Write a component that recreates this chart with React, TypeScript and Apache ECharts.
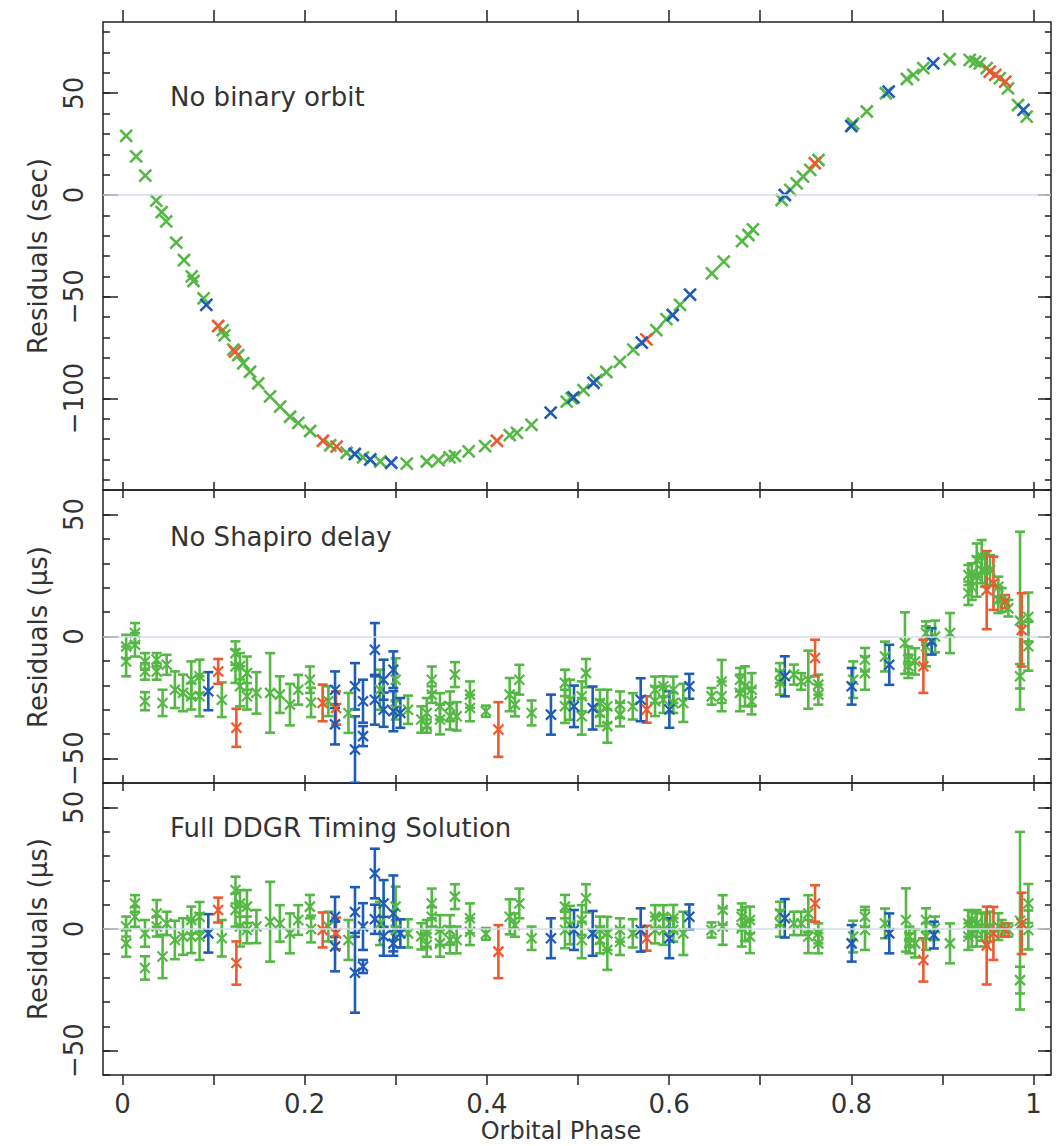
import React, { useEffect, useRef } from 'react';
import * as echarts from 'echarts';

// ---------- data ----------
const X_MIN = -0.0214;
const X_MAX = 1.0192;
const X_TICKS = [0, 0.1, 0.2, 0.3, 0.4, 0.5, 0.6, 0.7, 0.8, 0.9, 1.0];
const X_LABELS = [0, 0.2, 0.4, 0.6, 0.8, 1.0];

const Y1_RANGE = [-145, 85];
const Y1_MAJOR = [-100, -50, 0, 50];
const Y1_MINOR = [-140, -130, -120, -110, -100, -90, -80, -70, -60, -50, -40, -30, -20, -10, 0, 10, 20, 30, 40, 50, 60, 70, 80];
const Y23_RANGE = [-60, 60];
const Y23_MAJOR = [-50, 0, 50];
const Y23_MINOR = [-60, -50, -40, -30, -20, -10, 0, 10, 20, 30, 40, 50, 60];

const PANEL_TITLES = ['No binary orbit', 'No Shapiro delay', 'Full DDGR Timing Solution'];
const Y_NAMES = ['Residuals (sec)', 'Residuals (μs)', 'Residuals (μs)'];
const X_NAME = 'Orbital Phase';

// Panel 1: [phase, residual (s)]
const P1_GREEN: number[][] = [
  [0.004, 29], [0.015, 19], [0.025, 9.5], [0.037, -2.8], [0.043, -8.4], [0.048, -13], [0.059, -23.4],
  [0.0675, -32], [0.076, -40], [0.078, -42.3], [0.089, -50.8], [0.11, -66.4], [0.112, -69], [0.1216, -76],
  [0.127, -78.7], [0.1326, -82.7], [0.14, -86.9], [0.149, -92.6], [0.162, -99], [0.173, -104], [0.184, -109],
  [0.193, -112], [0.206, -116], [0.228, -123], [0.246, -126.7], [0.264, -129], [0.283, -131], [0.312, -132],
  [0.334, -131], [0.347, -130.3], [0.359, -129], [0.365, -128.3], [0.38, -126], [0.398, -123.4], [0.425, -118],
  [0.433, -116.9], [0.449, -113], [0.4876, -101.6], [0.493, -100], [0.506, -95.9], [0.52, -91], [0.531, -87],
  [0.546, -82], [0.5607, -76], [0.586, -66.4], [0.597, -61], [0.612, -54], [0.647, -38.5], [0.66, -32.8],
  [0.68, -22.7], [0.687, -19.7], [0.692, -16.9], [0.7236, -2.5], [0.733, 2.5], [0.74, 5.7], [0.747, 9],
  [0.755, 12.3], [0.764, 17.2], [0.802, 35], [0.817, 41], [0.838, 50], [0.861, 57], [0.868, 59], [0.879, 62.3],
  [0.908, 66.7], [0.93, 66.4], [0.936, 65.5], [0.941, 64.7], [0.9486, 62.3], [0.963, 57.4], [0.972, 52.4],
  [0.983, 44.2], [0.9925, 38.5],
];
const P1_BLUE: number[][] = [
  [0.092, -54], [0.255, -127.3], [0.272, -130], [0.295, -131.6], [0.47, -107], [0.495, -99.5], [0.517, -92.3],
  [0.57, -72.6], [0.604, -59], [0.623, -49], [0.727, 0], [0.8, 33.9], [0.841, 50.8], [0.89, 64.7], [0.989, 41.8],
];
const P1_RED: number[][] = [
  [0.105, -64.4], [0.1235, -77], [0.22, -120.8], [0.235, -123.7], [0.411, -120.8], [0.575, -71], [0.76, 15.6],
  [0.952, 60.6], [0.958, 59], [0.969, 55.7],
];

// Panel 2: [phase, residual (us), error (us)]
const P2_GREEN: number[][] = [
  [0.004, -4.1, 4.8], [0.004, -10.2, 6.1], [0.0137, 1.4, 4.1], [0.0137, -3.4, 4.8],
  [0.0247, -10.2, 3.4], [0.0247, -14.3, 3.4], [0.0247, -26.5, 3.7], [0.0375, -9.5, 2.7], [0.0375, -14.3, 3.4],
  [0.044, -27.2, 5.4], [0.0485, -11.6, 4.1], [0.0575, -21.8, 7.5], [0.0664, -23.1, 7.5],
  [0.0755, -17.7, 7.5], [0.0755, -24.5, 5.4], [0.0846, -16.3, 6.8], [0.0846, -24.5, 8.2], [0.109, -25.9, 7.1],
  [0.124, -6.8, 4.8], [0.124, -12.2, 6.8], [0.129, -12.2, 5.4], [0.129, -20.4, 8.2], [0.1366, -15, 6.8],
  [0.1366, -24.5, 5.4], [0.147, -23.1, 8.5], [0.162, -23.1, 16.3], [0.1727, -23.8, 7.5], [0.1838, -27.9, 8.5],
  [0.1929, -21.8, 6.1], [0.2057, -17.7, 5.4], [0.207, -27, 6], [0.226, -26.5, 6.1], [0.248, -31.3, 8.2],
  [0.2827, -21.8, 8.2], [0.2998, -17.7, 8.8], [0.2998, -30, 4], [0.3134, -30, 5.8], [0.328, -34, 5.4],
  [0.334, -31.3, 6.1], [0.334, -36.7, 2.7], [0.3395, -17.7, 5.4], [0.3395, -23.8, 3.4], [0.3485, -28.6, 5.4],
  [0.3485, -34, 6.1], [0.3595, -28.6, 6.1], [0.3595, -32.7, 5.4], [0.3649, -15.6, 5.1], [0.3668, -32.7, 5.8],
  [0.3814, -23.8, 5.4], [0.3814, -29.3, 5.4], [0.3989, -30.6, 2.3], [0.425, -23.8, 6.8], [0.4308, -27.9, 4.8],
  [0.4356, -17.7, 6.1], [0.4491, -31.3, 5.1], [0.4857, -19, 5.4], [0.4857, -28.6, 6.8], [0.4912, -25.9, 8.2],
  [0.5041, -24.5, 6.1], [0.5041, -32.7, 7.5], [0.5088, -15, 5.8], [0.5241, -27.2, 5.4], [0.5241, -31.3, 5.4],
  [0.5322, -28.6, 6.8], [0.5322, -36.7, 6.8], [0.5461, -27.9, 5.4], [0.5461, -32, 4.8], [0.5601, -28.6, 5.4],
  [0.5846, -21.8, 5.4], [0.5846, -26.5, 6.1], [0.5937, -20.4, 4.1], [0.5937, -25.9, 5.4], [0.6047, -21.8, 5.4],
  [0.6047, -27.2, 4.1], [0.6156, -27.2, 7.8], [0.6466, -24.5, 3.4], [0.6577, -18.4, 8.8], [0.6577, -24.5, 6.1],
  [0.6778, -17.7, 4.8], [0.6778, -23.1, 7.5], [0.6833, -20.4, 8.2], [0.6906, -21.8, 6.8], [0.6906, -26.5, 5.4],
  [0.7217, -15, 4.1], [0.7217, -19, 4.8], [0.737, -15.6, 4.1], [0.745, -18.4, 3.4], [0.7528, -17.7, 11.9],
  [0.7638, -19.7, 4.1], [0.7638, -23.8, 4.1], [0.802, -17.7, 7.5], [0.815, -9.5, 4.8], [0.815, -15, 6.8],
  [0.837, -8.2, 6.1], [0.8589, -2.7, 12.6], [0.8626, -9.5, 5.4], [0.8626, -12.2, 4.8], [0.87, -10.2, 5.4],
  [0.882, 1.4, 4.8], [0.882, -4, 8.2], [0.8919, 0, 6.5], [0.9083, 1.4, 8.2], [0.9285, 25.2, 4.1],
  [0.9285, 17.7, 4.8], [0.9322, 25.9, 4.1], [0.9322, 20.4, 5.4], [0.9377, 31.3, 6.8], [0.9377, 24.5, 8.2],
  [0.9432, 32.7, 6.8], [0.9432, 27.2, 5.4], [0.9468, 27.2, 6.8], [0.9523, 27.2, 6.1], [0.9614, 20.4, 4.1],
  [0.9614, 15, 5.4], [0.9651, 15, 4.8], [0.9724, 11.6, 3.4], [0.9852, 6.5, 36.4], [0.9852, -16.3, 5],
  [0.9943, 8, 10], [0.9943, -4, 10],
];
const P2_BLUE: number[][] = [
  [0.0942, -22.4, 7.8], [0.2333, -21.8, 7.5], [0.2333, -36, 8.2], [0.2552, -20.4, 9.5], [0.2552, -46.3, 13.6],
  [0.264, -26.5, 8.8], [0.264, -40.8, 4.1], [0.277, -5.4, 10.9], [0.277, -25.9, 10.2], [0.2866, -17.7, 8.2],
  [0.2866, -30, 7], [0.2973, -13.6, 7.5], [0.2973, -30.6, 8.2], [0.305, -31.3, 6.1], [0.4703, -32, 8.2],
  [0.4956, -28.6, 8.5], [0.5161, -29.3, 8.8], [0.5688, -25.9, 8.8], [0.6003, -29.9, 7.5], [0.6222, -20.4, 5.1],
  [0.727, -16.3, 8.2], [0.8004, -20.4, 7.5], [0.8417, -11.6, 8.2], [0.8882, -2, 5.4],
];
const P2_RED: number[][] = [
  [0.105, -14.3, 5.1], [0.125, -37.4, 7.8], [0.2197, -27.2, 7.5], [0.2344, -29.3, 6.8], [0.4126, -38.1, 11.2],
  [0.5754, -29.9, 5.4], [0.7602, -8.8, 7.5], [0.8791, -12.2, 10.9], [0.9486, 19, 16], [0.956, 21.8, 10.9],
  [0.9688, 14.3, 2.7], [0.987, 2.7, 15],
];

// Panel 3: [phase, residual (us), error (us)]
const P3_GREEN: number[][] = [
  [0.004, 1, 4.1], [0.004, -5.9, 5.5], [0.0137, 10.5, 3.4], [0.0137, 5, 4.1], [0.0247, -1.8, 5.5],
  [0.0247, -16, 4.8], [0.0375, 6.4, 5.5], [0.0375, 1, 4.1], [0.044, -11.3, 8.9], [0.0485, 2.3, 4.8],
  [0.0575, -4.5, 7.9], [0.0664, -3.1, 7.5], [0.0755, 3.7, 5.5], [0.0755, -3.1, 6.8], [0.0846, 5, 6.1],
  [0.0846, -3.1, 9.6], [0.109, -3.8, 7.5], [0.124, 16, 5.5], [0.124, 7.8, 6.8], [0.129, 10.5, 5.5],
  [0.129, 1, 8.2], [0.1366, 9.2, 6.8], [0.1366, -0.4, 5.5], [0.147, 1, 6.8], [0.162, 3, 16.4],
  [0.1727, 2.3, 7.5], [0.1838, -1.8, 8.2], [0.1929, 3.7, 6.1], [0.2057, 9.2, 4.8], [0.207, 0, 5.5],
  [0.226, 1, 6.1], [0.248, -4.5, 8.2], [0.2827, 2.3, 8.9], [0.2998, 9.2, 8.2], [0.2998, -0.4, 4],
  [0.3134, -1.8, 5.8], [0.328, -3, 5.4], [0.334, -1.8, 5.5], [0.334, -6.6, 4.8], [0.3395, 10.5, 6.1],
  [0.3395, 5, 4], [0.3485, -0.4, 6.1], [0.3485, -5.9, 5.5], [0.3595, -0.4, 6.1], [0.3595, -4.5, 5.5],
  [0.3649, 13.3, 5.1], [0.3668, -4.5, 5.5], [0.3814, 4.4, 6.1], [0.3814, -1.1, 5.5], [0.3989, -2, 2.4],
  [0.425, 5, 7.2], [0.4308, 1.6, 4.8], [0.4356, 10.5, 6.1], [0.4491, -3.8, 4.8], [0.4857, 9.2, 4.8],
  [0.4857, -0.4, 7.5], [0.4912, 1.6, 7.9], [0.5041, 3.7, 6.1], [0.5041, -4.5, 7.5], [0.5088, 12.6, 5.8],
  [0.5241, -0.4, 5.5], [0.5241, -4.5, 5.5], [0.5322, -1.8, 6.8], [0.5322, -8.6, 8.2], [0.5461, -0.4, 4.8],
  [0.5461, -5.2, 5.5], [0.5601, -1.8, 5.8], [0.5846, 5, 4.8], [0.5846, -0.4, 5.5], [0.5937, 5, 4.8],
  [0.5937, -0.4, 6.1], [0.6047, 4.4, 5.5], [0.6047, -0.4, 4.8], [0.6156, -1.8, 8.9], [0.6466, -0.4, 3.1],
  [0.6588, 7.8, 6.1], [0.6588, 1, 7.5], [0.6797, 5, 5.5], [0.6797, 0.3, 7.5], [0.6833, 2, 7],
  [0.6888, 3.7, 5.5], [0.6888, -3.1, 6.8], [0.7217, 6.4, 4.8], [0.7217, 2.3, 5.5], [0.737, 2.3, 4.8],
  [0.745, 2.3, 4.8], [0.7528, 6.4, 7.5], [0.7528, -3.1, 6.8], [0.7638, -1.8, 4.1], [0.7638, -5.9, 4.1],
  [0.802, -3.1, 6.5], [0.815, 5, 4.1], [0.815, -0.4, 8.2], [0.837, 2.3, 6.1], [0.86, 3.7, 13],
  [0.8637, -3.1, 4.1], [0.8637, -5.9, 4.1], [0.87, -5.9, 5.8], [0.882, 3.7, 4.8], [0.882, -3.1, 5.5],
  [0.8919, 0.3, 4.8], [0.9083, -5.9, 8.2], [0.9285, 2.3, 5.5], [0.9285, -3.1, 5.5], [0.9322, 3.7, 3.4],
  [0.9322, -1.8, 5.5], [0.9377, 2.3, 5.5], [0.9377, -0.4, 6.8], [0.9432, 1, 5.8], [0.9468, -0.4, 6.8],
  [0.9523, 1, 6.1], [0.9614, 1, 5.5], [0.9651, 0.3, 3.4], [0.9724, -0.4, 2.7], [0.9852, 3.4, 36.5],
  [0.9852, -21, 5.5], [0.9943, 10.5, 8], [0.9943, -0.4, 8],
];
const P3_BLUE: number[][] = [
  [0.0942, -1.8, 7.9], [0.2333, 5, 8.2], [0.2333, -7.2, 10.2], [0.2552, 7, 10.2], [0.2552, -18, 16.4],
  [0.264, 1, 9.6], [0.264, -15.4, 2.7], [0.277, 22.8, 10.2], [0.277, 4, 6], [0.2866, 10.5, 9.6],
  [0.2866, -3, 8], [0.2973, 6.4, 15.6], [0.2973, -6, 5], [0.305, -1.8, 5.8], [0.4703, -3.8, 8.2],
  [0.4956, -0.4, 8.2], [0.5161, -1.8, 9.2], [0.5688, -0.4, 8.9], [0.6003, -3.8, 8.2], [0.6222, 5, 5.1],
  [0.727, 4.4, 7.9], [0.8004, -5.9, 7.5], [0.8417, -1.8, 8.2], [0.8906, -2.5, 5.5],
];
const P3_RED: number[][] = [
  [0.105, 7.8, 5.1], [0.125, -14, 8.9], [0.2197, -0.4, 7.2], [0.2344, -1.8, 6.5], [0.4126, -9.3, 10.9],
  [0.5754, -3.8, 5.1], [0.7602, 10.5, 7.5], [0.8791, -12.7, 8.9], [0.9486, -6.8, 16], [0.956, -1.8, 10.9],
  [0.9688, -0.4, 2.7], [0.987, 2.3, 12.6],
];

// ---------- style ----------
const GREEN = '#55b845';
const BLUE = '#1f5cb8';
const RED = '#ec5a30';
const AXIS = '#222';
const TEXT = '#333';
const FONT = 'DejaVu Sans';
const CROSS = 'path://M0 0L10 10M10 0L0 10';

const GRIDS = [
  { top: 22, height: 468 },
  { top: 490, height: 293 },
  { top: 783, height: 292 },
];
const LEFT = 103;
const WIDTH = 948;

function fmtY(v: number) {
  return v < 0 ? '\u2212' + Math.abs(v) : String(v);
}

function buildOption() {
  const grid = GRIDS.map((g) => ({
    left: LEFT, top: g.top, width: WIDTH, height: g.height, show: true,
    borderColor: AXIS, borderWidth: 1.5, backgroundColor: 'transparent',
  }));

  const tickStyle = { color: AXIS, width: 1.5 };
  const noLine = { show: false, onZero: false };
  const xAxis: any[] = [];
  GRIDS.forEach((_, i) => {
    // bottom
    xAxis.push({
      type: 'value', gridIndex: i, position: 'bottom', min: X_MIN, max: X_MAX,
      splitLine: { show: false }, axisLine: noLine,
      axisTick: { show: true, customValues: X_TICKS, inside: i < 2, length: i < 2 ? 8 : 10, lineStyle: tickStyle },
      axisLabel: i === 2
        ? { show: true, customValues: X_LABELS, margin: 18, lineHeight: 22, fontFamily: FONT, fontSize: 26, color: TEXT,
            formatter: (v: number) => String(+v.toFixed(1)) }
        : { show: false },
    });
    // top
    xAxis.push({
      type: 'value', gridIndex: i, position: 'top', min: X_MIN, max: X_MAX,
      splitLine: { show: false }, axisLine: noLine,
      axisTick: { show: true, customValues: X_TICKS, inside: i > 0, length: i > 0 ? 8 : 12, lineStyle: tickStyle },
      axisLabel: { show: false },
    });
  });

  const yAxis: any[] = [];
  GRIDS.forEach((_, i) => {
    const range = i === 0 ? Y1_RANGE : Y23_RANGE;
    const major = i === 0 ? Y1_MAJOR : Y23_MAJOR;
    const minor = i === 0 ? Y1_MINOR : Y23_MINOR;
    const base = { type: 'value', gridIndex: i, min: range[0], max: range[1], splitLine: { show: false }, axisLine: noLine };
    yAxis.push({
      ...base, position: 'left',
      axisTick: { show: true, customValues: major, inside: true, length: 15, lineStyle: tickStyle },
      axisLabel: { show: true, customValues: major, rotate: 90, margin: 16, fontFamily: FONT, fontSize: 26, color: TEXT, formatter: fmtY },
    });
    yAxis.push({
      ...base, position: 'left',
      axisTick: { show: true, customValues: minor, inside: true, length: 7, lineStyle: tickStyle },
      axisLabel: { show: false },
    });
    yAxis.push({
      ...base, position: 'right',
      axisTick: { show: true, customValues: major, inside: true, length: 13, lineStyle: tickStyle },
      axisLabel: { show: false },
    });
    yAxis.push({
      ...base, position: 'right',
      axisTick: { show: true, customValues: minor, inside: true, length: 6, lineStyle: tickStyle },
      axisLabel: { show: false },
    });
  });

  const zeroLine = {
    silent: true, symbol: 'none', animation: false, label: { show: false },
    lineStyle: { color: '#d2dde8', width: 1.5, type: 'solid' }, data: [{ yAxis: 0 }],
  };

  const scatter = (data: number[][], color: string, i: number, size: number, width: number, withZero = false) => ({
    type: 'scatter', xAxisIndex: 2 * i, yAxisIndex: 4 * i,
    data: data.map((d) => [d[0], d[1]]),
    symbol: CROSS, symbolSize: size,
    itemStyle: { color: 'rgba(0,0,0,0)', borderColor: color, borderWidth: width, opacity: 1 },
    emphasis: { disabled: true }, silent: true,
    ...(withZero ? { markLine: zeroLine } : {}),
  });

  const errorBars = (data: number[][], color: string, i: number) => ({
    type: 'custom', xAxisIndex: 2 * i, yAxisIndex: 4 * i, clip: true, silent: true,
    data,
    encode: { x: 0, y: 1 },
    renderItem: (params: any, api: any) => {
      const x = api.value(0), y = api.value(1), e = api.value(2);
      const top = api.coord([x, y + e]);
      const bot = api.coord([x, y - e]);
      const c = 5;
      const st = { stroke: color, lineWidth: 2.6 };
      return {
        type: 'group',
        children: [
          { type: 'line', shape: { x1: top[0], y1: top[1], x2: bot[0], y2: bot[1] }, style: st },
          { type: 'line', shape: { x1: top[0] - c, y1: top[1], x2: top[0] + c, y2: top[1] }, style: st },
          { type: 'line', shape: { x1: bot[0] - c, y1: bot[1], x2: bot[0] + c, y2: bot[1] }, style: st },
        ],
      };
    },
  });

  const series: any[] = [
    scatter(P1_GREEN, GREEN, 0, 12, 2.6, true),
    scatter(P1_RED, RED, 0, 12, 2.6),
    scatter(P1_BLUE, BLUE, 0, 12, 2.6),
  ];
  const panels = [
    [P2_GREEN, P2_RED, P2_BLUE],
    [P3_GREEN, P3_RED, P3_BLUE],
  ];
  panels.forEach((sets, k) => {
    const i = k + 1;
    const colors = [GREEN, RED, BLUE];
    sets.forEach((d, j) => {
      series.push(errorBars(d, colors[j], i));
      series.push(scatter(d, colors[j], i, 10, 2.2, j === 0));
    });
  });

  const titleText = (text: string, y: number) => ({
    type: 'text', x: 170, y, silent: true,
    style: { text, fontFamily: FONT, fontSize: 26, fill: TEXT, align: 'left', verticalAlign: 'middle', textAlign: 'left', textVerticalAlign: 'middle' },
  });
  const yName = (text: string, y: number) => ({
    type: 'text', x: 38, y, rotation: Math.PI / 2, silent: true,
    style: { text, fontFamily: FONT, fontSize: 26, fill: TEXT, align: 'center', verticalAlign: 'middle', textAlign: 'center', textVerticalAlign: 'middle' },
  });

  const graphic = [
    titleText(PANEL_TITLES[0], 97),
    titleText(PANEL_TITLES[1], 537),
    titleText(PANEL_TITLES[2], 828),
    yName(Y_NAMES[0], 256),
    yName(Y_NAMES[1], 637),
    yName(Y_NAMES[2], 929),
    {
      type: 'text', x: 561, y: 1131, silent: true,
      style: { text: X_NAME, fontFamily: FONT, fontSize: 24, fill: TEXT, align: 'center', verticalAlign: 'middle', textAlign: 'center', textVerticalAlign: 'middle' },
    },
  ];

  return {
    animation: false,
    backgroundColor: '#ffffff',
    grid, xAxis, yAxis, series, graphic,
  };
}

export default function App() {
  const ref = useRef<HTMLDivElement>(null);
  useEffect(() => {
    document.body.style.margin = '0';
    const chart = echarts.init(ref.current!, null, { renderer: 'svg' });
    chart.setOption(buildOption() as any);
    return () => chart.dispose();
  }, []);
  return <div ref={ref} style={{ width: 1059, height: 1146 }} />;
}
